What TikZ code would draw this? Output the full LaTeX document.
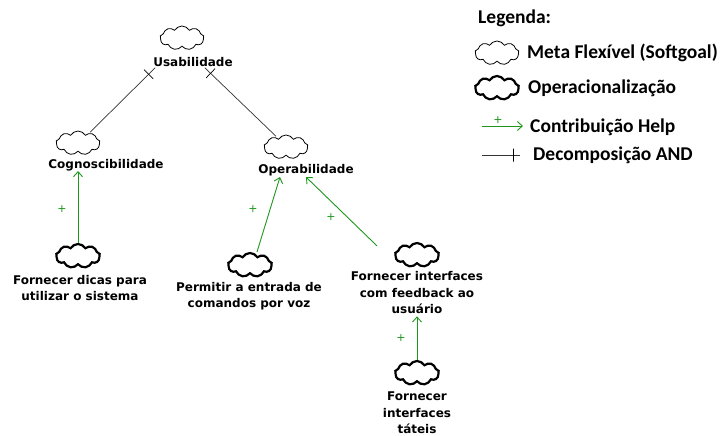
\documentclass[tikz,border=0pt]{standalone}
\usepackage{fontspec}
\setmainfont{DejaVu Sans}
\newfontfamily\legfont{Carlito}
\usetikzlibrary{shapes.symbols,arrows.meta}
\definecolor{helpgreen}{RGB}{30,150,30}
\tikzset{
  soft/.style={cloud, cloud puffs=9, cloud puff arc=120, aspect=1.9, draw, line width=0.8pt, minimum width=44pt, minimum height=24pt, inner sep=0pt},
  oper/.style={soft, line width=2.2pt},
  lbl/.style={font=\bfseries\fontsize{12}{16.5}\selectfont, align=center, inner sep=0pt},
  leg/.style={font=\legfont\bfseries\fontsize{19.5}{21}\selectfont, anchor=west, inner sep=0pt},
  help/.style={draw=helpgreen, line width=0.9pt, -{Straight Barb[length=5pt,width=9pt]}},
  plus/.style={text=helpgreen, font=\fontsize{11}{11}\selectfont, inner sep=0pt},
  decomp/.style={draw=black!80, line width=0.7pt},
  tick/.style={draw=black, minimum height=13pt, minimum width=0pt, inner sep=0pt, line width=0.7pt}
}
\begin{document}
\begin{tikzpicture}[x=1pt,y=-1pt]
\useasboundingbox (0,0) rectangle (726,436);
% softgoals
\node[soft] (usa) at (182,38) {};
\node[lbl] (usaL) at (193,62) {Usabilidade};
\node[soft] (cog) at (78,143) {};
\node[lbl] (cogL) at (106,165) {Cognoscibilidade};
\node[soft] (ope) at (286,147) {};
\node[lbl] (opeL) at (306,170) {Operabilidade};
% operationalizations
\node[oper] (dic) at (78,256) {};
\node[lbl] (dicL) at (80,288) {Fornecer dicas para\\utilizar o sistema};
\node[oper] (voz) at (250,265) {};
\node[lbl] (vozL) at (249,296) {Permitir a entrada de\\comandos por voz};
\node[oper] (fee) at (417,255) {};
\node[lbl] (feeL) at (417,293) {Fornecer interfaces\\com feedback ao\\usuário};
\node[oper] (tat) at (417,373) {};
\node[lbl] (tatL) at (417,413) {Fornecer\\interfaces\\táteis};
% decompositions
\draw[decomp] ([xshift=2pt,yshift=-1pt]usaL.south west) -- node[tick, sloped, pos=0.1] (t1) {} ([xshift=-4pt,yshift=2pt]cog.north east);
\draw[decomp] ([xshift=-28pt,yshift=-1pt]usaL.south east) -- node[tick, sloped, pos=0.08] (t2) {} ([xshift=6pt,yshift=2pt]ope.north west);
% contributions
\draw[help] (dic.north) -- (cogL.south -| dic.north);
\node[plus] (p1) at (62,209) {+};
\draw[help] ([xshift=7pt]voz.north) -- ([xshift=-26pt,yshift=-1pt]opeL.south);
\node[plus] (p2) at (253,209) {+};
\draw[help] ([xshift=-40pt,yshift=-4pt]fee.north) -- ([yshift=-1pt]opeL.south);
\node[plus] (p3) at (331,217) {+};
\draw[help] (tat.north) -- ([yshift=-2pt]feeL.south);
\node[plus] (p4) at (401,338) {+};
% legend
\node[leg] (legT) at (478,18) {Legenda:};
\node[soft] (lg1) at (497,53) {};
\node[leg] (lt1) at (527,53) {Meta Flexível (Softgoal)};
\node[oper] (lg2) at (497,88) {};
\node[leg] (lt2) at (528,88) {Operacionalização};
\coordinate (a1) at (482,126);
\coordinate (a2) at (523,126);
\draw[help] (a1) -- (a2);
\node[plus] (p5) at (498,120) {+};
\node[leg] (lt3) at (530,127) {Contribuição Help};
\coordinate (d1) at (482,155);
\coordinate (d2) at (520,155);
\draw[decomp] (d1) -- node[tick, pos=0.82] (t3) {} (d2);
\node[leg] (lt4) at (533,155) {Decomposição AND};
\end{tikzpicture}
\end{document}
